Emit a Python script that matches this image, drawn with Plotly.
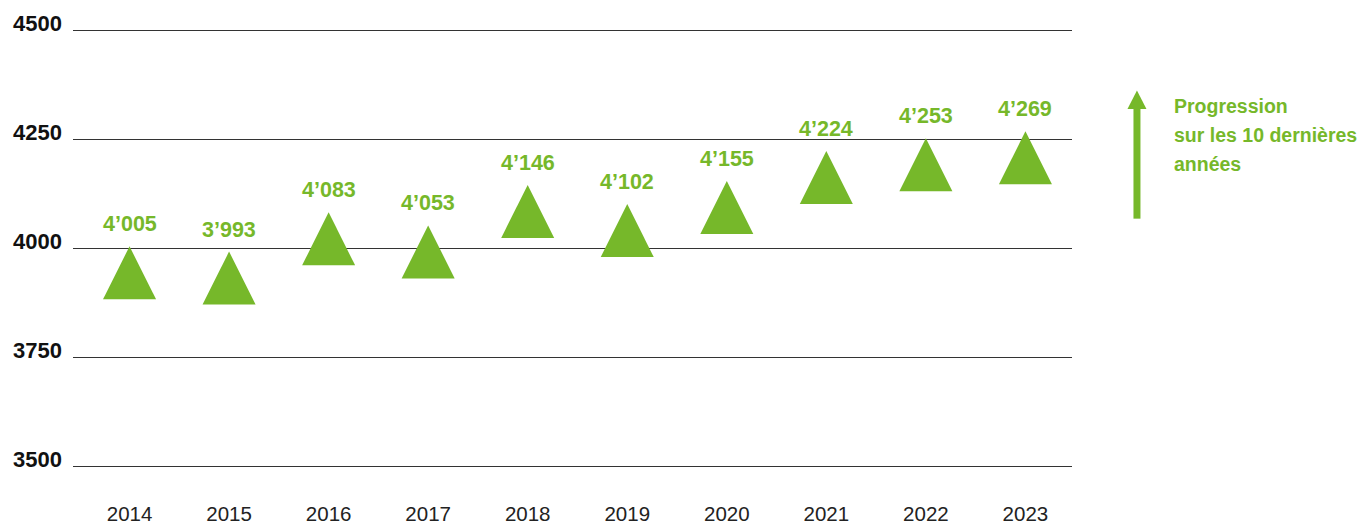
import plotly.graph_objects as go

years = ["2014", "2015", "2016", "2017", "2018", "2019", "2020", "2021", "2022", "2023"]
values = [4005, 3993, 4083, 4053, 4146, 4102, 4155, 4224, 4253, 4269]
labels = ["4’005", "3’993", "4’083", "4’053", "4’146", "4’102", "4’155", "4’224", "4’253", "4’269"]
y_ticks = [3500, 3750, 4000, 4250, 4500]
note_lines = ["Progression", "sur les 10 dernières", "années"]

GREEN = "#76b82a"
OFF = 8  # page body margin offset
W, H = 1371 - OFF, 525 - OFF
L, R = 72.7 - OFF, 1072.3 - OFF
T_PIX, B_PIX = 22.3 - OFF, 475.4 - OFF
FONT = "Liberation Sans, Arial, sans-serif"

fig = go.Figure()
fig.add_trace(go.Scatter(
    x=years, y=values, mode="markers",
    marker=dict(symbol="arrow-up", size=53, color=GREEN, line=dict(width=0)),
    hoverinfo="x+y", showlegend=False,
))

annotations = []
for i, (v, t) in enumerate(zip(values, labels)):
    annotations.append(dict(
        x=i, y=v, xref="x", yref="y", text=t, showarrow=False,
        yanchor="bottom", yshift=8,
        font=dict(family=FONT, size=21.5, color=GREEN, weight="bold"),
    ))

def px_to_paper_x(px):
    return (px - OFF - L) / (R - L)

def px_to_paper_y(py):
    return (B_PIX - (py - OFF)) / (B_PIX - T_PIX)

for i, line in enumerate(note_lines):
    annotations.append(dict(
        x=px_to_paper_x(1172.5), y=px_to_paper_y(106.3 + 29 * i), xref="paper", yref="paper",
        text=line, showarrow=False, xanchor="left", yanchor="middle",
        font=dict(family=FONT, size=19.5, color=GREEN, weight="bold"),
    ))

shapes = [
    dict(type="rect", xref="paper", yref="paper",
         x0=px_to_paper_x(1133.8), x1=px_to_paper_x(1140.8),
         y0=px_to_paper_y(219), y1=px_to_paper_y(108),
         fillcolor=GREEN, line=dict(width=0)),
    dict(type="path", xref="paper", yref="paper",
         path="M {a},{b} L {c},{d} L {e},{b} Z".format(
             a=px_to_paper_x(1127.8), b=px_to_paper_y(109.3),
             c=px_to_paper_x(1137.3), d=px_to_paper_y(90.7),
             e=px_to_paper_x(1146.8)),
         fillcolor=GREEN, line=dict(width=0)),
]

fig.update_layout(
    template="none",
    width=W, height=H,
    margin=dict(l=L, r=W - R, t=T_PIX, b=H - B_PIX, pad=0, autoexpand=False),
    paper_bgcolor="white", plot_bgcolor="white",
    annotations=annotations, shapes=shapes,
    xaxis=dict(
        type="category", range=[-0.568, 9.468], automargin=False,
        showgrid=False, zeroline=False, showline=False, ticks="",
        tickfont=dict(family=FONT, size=20.5, color="#222222"),
        ticklabelstandoff=24,
    ),
    yaxis=dict(
        range=[3480, 4520], tickvals=y_ticks, ticktext=[str(v) for v in y_ticks],
        automargin=False,
        showgrid=True, gridcolor="#333333", gridwidth=1,
        zeroline=False, showline=False, ticks="",
        ticklabelshift=-7,
        tickfont=dict(family=FONT, size=22, color="#111111", weight="bold"),
        ticklabelstandoff=10,
    ),
    hovermode="closest",
)

fig.write_html("out.html")
